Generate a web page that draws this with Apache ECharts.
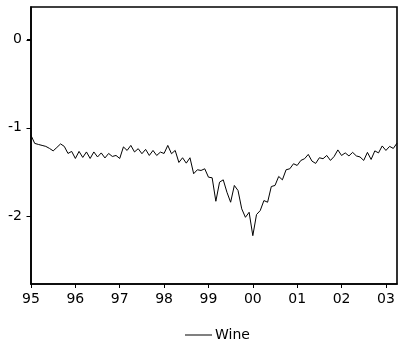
<!DOCTYPE html>
<html>
<head>
<meta charset="utf-8">
<script src="https://cdn.jsdelivr.net/npm/echarts@6/dist/echarts.min.js"></script>
<style>
html,body{margin:0;padding:0;background:#fff;}
#chart{width:398px;height:347px;}
</style>
</head>
<body>
<div id="chart"></div>
<script>
// Monthly observations 1995M01 .. 2003M04
const startYear = 1995;
const months = [];
for (let i = 0; i < 100; i++) {
  const y = startYear + Math.floor(i / 12);
  const m = (i % 12) + 1;
  months.push(y + 'M' + (m < 10 ? '0' + m : m));
}
const yearLabels = ['95','96','97','98','99','00','01','02','03'];
const yTickValues = [-2, -1, 0];
const seriesName = 'Wine';
const wine = [
  -1.085,-1.176,-1.188,-1.199,-1.210,-1.233,-1.261,-1.222,-1.182,-1.210,-1.290,-1.267,
  -1.347,-1.267,-1.335,-1.273,-1.347,-1.273,-1.330,-1.284,-1.341,-1.290,-1.324,-1.313,
  -1.347,-1.216,-1.256,-1.199,-1.273,-1.236,-1.293,-1.244,-1.313,-1.256,-1.313,-1.275,
  -1.290,-1.199,-1.293,-1.256,-1.392,-1.339,-1.400,-1.339,-1.520,-1.475,-1.483,-1.464,
  -1.559,-1.566,-1.832,-1.616,-1.589,-1.730,-1.843,-1.653,-1.710,-1.918,-2.014,-1.957,
  -2.222,-1.983,-1.938,-1.824,-1.843,-1.665,-1.653,-1.551,-1.589,-1.475,-1.464,-1.407,
  -1.426,-1.369,-1.350,-1.301,-1.377,-1.403,-1.339,-1.350,-1.313,-1.369,-1.324,-1.250,
  -1.313,-1.284,-1.318,-1.278,-1.318,-1.330,-1.369,-1.278,-1.358,-1.261,-1.284,-1.205,
  -1.256,-1.210,-1.233,-1.173
];

const chart = echarts.init(document.getElementById('chart'), null, {renderer: 'canvas'});
const font = 'DejaVu Sans';
chart.setOption({
  animation: false,
  backgroundColor: '#fff',
  grid: {
    left: 31, right: 1, top: 7, bottom: 63,
    show: true, borderColor: '#000', borderWidth: 1.6, backgroundColor: 'transparent'
  },
  legend: {
    left: 180, top: 323,
    itemWidth: 27, itemHeight: 1, itemGap: 10,
    textStyle: {fontFamily: font, fontSize: 14, color: '#000', padding: [0,0,0,-2]},
    data: [{name: seriesName, icon: 'rect'}]
  },
  xAxis: {
    type: 'category',
    data: months,
    boundaryGap: false,
    axisLine: {show: true, onZero: false, lineStyle: {color: '#000', width: 1.6}},
    axisTick: {show: true, length: 4, inside: false, lineStyle: {color: '#000'},
      interval: function (i) { return i % 12 === 0; }},
    axisLabel: {
      margin: 8, fontFamily: font, fontSize: 14, color: '#000',
      interval: function (i) { return i % 12 === 0; },
      formatter: function (v, i) { return i % 12 === 0 ? yearLabels[i / 12] : ''; }
    },
    splitLine: {show: false}
  },
  yAxis: {
    type: 'value',
    min: -2.77, max: 0.37,
    axisLine: {show: true, onZero: false, lineStyle: {color: '#000', width: 1.6}},
    axisTick: {show: true, length: 4, inside: false, lineStyle: {color: '#000'}, customValues: yTickValues},
    axisLabel: {margin: 9, fontFamily: font, fontSize: 14, color: '#000', customValues: yTickValues},
    splitLine: {show: false}
  },
  series: [{
    name: seriesName,
    type: 'line',
    data: wine,
    symbol: 'none',
    color: '#000',
    lineStyle: {color: '#000', width: 1}
  }]
});

// y-axis tick marks positioned through the axis scale
const axisX = chart.convertToPixel({xAxisIndex: 0}, months[0]);
const tickGraphics = yTickValues.map(function (v) {
  const py = Math.round(chart.convertToPixel({yAxisIndex: 0}, v)) + 0.5;
  return {
    type: 'line', silent: true, z: 10,
    shape: {x1: axisX - 4.5, y1: py, x2: axisX, y2: py},
    style: {stroke: '#000', lineWidth: 1}
  };
});
chart.setOption({graphic: tickGraphics});
</script>
</body>
</html>
